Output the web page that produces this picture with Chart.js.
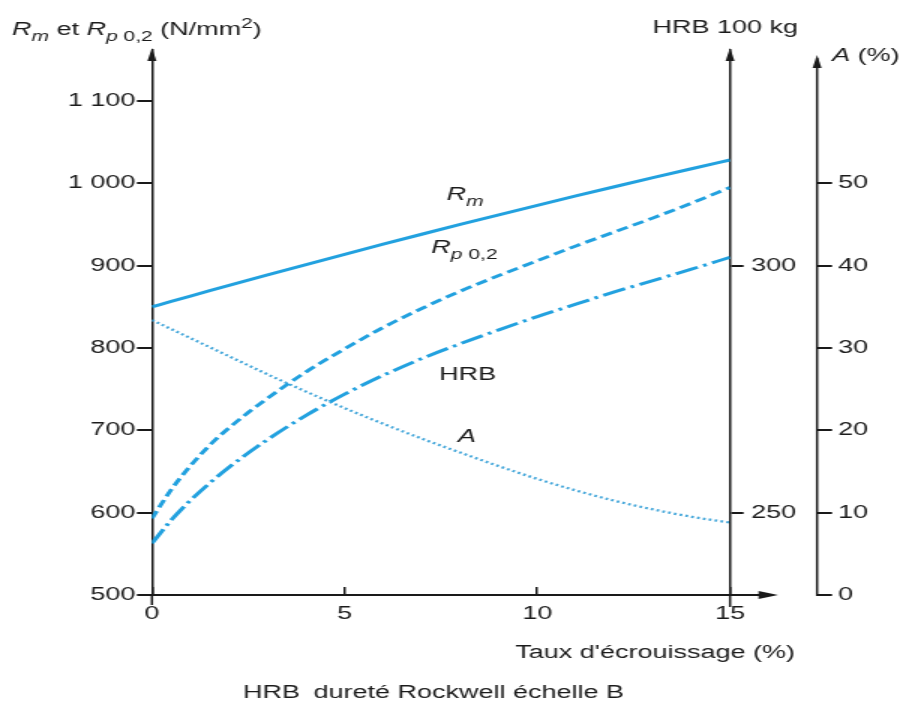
<!DOCTYPE html>
<html lang="fr">
<head>
<meta charset="utf-8">
<title>Écrouissage</title>
<script src="https://cdn.jsdelivr.net/npm/chart.js@4.4.1/dist/chart.umd.min.js"></script>
<style>
  html, body { margin: 0; background: #fff; }
</style>
</head>
<body>
<!-- drawn on a narrow canvas, then widened to the page width -->
<canvas id="chart" width="602" height="705" style="width:903px;height:705px;display:block"></canvas>
<script>
// taux d'écrouissage (%)
const strain = [0, 0.5, 1, 1.5, 2, 3, 4, 5, 6, 7, 8, 9, 10, 11, 12, 13, 14, 15];
// N/mm2
const rm   = [850, 856.6, 863.1, 869.6, 876.1, 888.8, 901.4, 913.8, 926.1, 938.2, 950.1, 961.8, 973.3, 984.7, 995.9, 1006.9, 1017.8, 1028.5];
const rp02 = [593, 628, 657, 682, 703, 739, 771, 799, 825, 848, 869, 888, 906, 924, 941, 958, 976, 995];
// HRB 100 kg
const hrb  = [243.8, 248.5, 252.5, 256.0, 259.2, 264.8, 269.7, 274.0, 277.8, 281.2, 284.2, 287.0, 289.7, 292.2, 294.7, 297.0, 299.3, 301.7];
// A (%)
const elong = [33.4, 32.3, 31.2, 30.1, 29.0, 26.8, 24.7, 22.7, 20.8, 19.0, 17.3, 15.65, 14.1, 12.7, 11.45, 10.4, 9.5, 8.8];

const xTicks = [0, 5, 10, 15];
const stressTicks = [500, 600, 700, 800, 900, 1000, 1100];
const hrbTicks = [250, 300];
const elongTicks = [0, 10, 20, 30, 40, 50];

const STRESS_MIN = 500, STRESS_MAX = 1162;
// the two right-hand scales share the stress axis grid
const hrbAt = s => 250 + (s - 600) / 6;
const elongAt = s => (s - 500) / 10;

const FONT = "'Liberation Sans', Arial, sans-serif";
const INK = '#1b1b1b';
const AXIS = '#1a1a1a';
const BLUE = '#22a1df';

const pts = ys => strain.map((x, i) => ({ x: x, y: ys[i] }));
const setTicks = list => scale => { scale.ticks = list.map(v => ({ value: v })); };

function drawRich(ctx, x, y, parts) {
  parts.forEach(p => {
    const size = (p.sub || p.sup) ? 14 : 18;
    ctx.font = (p.it ? 'italic ' : '') + size + 'px ' + FONT;
    const dy = p.sub ? 6 : (p.sup ? -7 : 0);
    ctx.fillText(p.t, x, y + dy);
    x += ctx.measureText(p.t).width;
  });
}

function arrowUp(ctx, x, tip) {
  ctx.beginPath();
  ctx.moveTo(x, tip);
  ctx.lineTo(x - 3, tip + 13);
  ctx.lineTo(x + 3, tip + 13);
  ctx.closePath();
  ctx.fill();
}

function arrowRight(ctx, tip, y) {
  ctx.beginPath();
  ctx.moveTo(tip, y);
  ctx.lineTo(tip - 13, y - 4);
  ctx.lineTo(tip - 13, y + 4);
  ctx.closePath();
  ctx.fill();
}

// arrows, axis extensions and all the labels
const decor = {
  id: 'decor',
  afterDraw(chart) {
    const ctx = chart.ctx;
    const area = chart.chartArea;
    const sx = chart.scales.x, sy = chart.scales.y, sa = chart.scales.yA;
    ctx.save();
    ctx.strokeStyle = AXIS;
    ctx.fillStyle = AXIS;

    // axes running below the abscissa
    ctx.lineWidth = 1.5;
    ctx.beginPath();
    ctx.moveTo(area.left, area.bottom);
    ctx.lineTo(area.left, area.bottom + 10);
    ctx.moveTo(area.right, area.bottom);
    ctx.lineTo(area.right, area.bottom + 12);
    ctx.stroke();

    // A axis
    const ax = sa.left;
    ctx.beginPath();
    ctx.moveTo(ax, area.bottom + 1);
    ctx.lineTo(ax, area.top + 8);
    ctx.stroke();

    // abscissa carried past 15 %
    const xTip = sx.getPixelForValue(15) + 32;
    ctx.lineWidth = 2;
    ctx.beginPath();
    ctx.moveTo(area.right, area.bottom);
    ctx.lineTo(xTip - 10, area.bottom);
    ctx.stroke();

    arrowUp(ctx, area.left, area.top - 2);
    arrowUp(ctx, area.right, area.top - 2);
    arrowUp(ctx, ax, area.top + 5);
    arrowRight(ctx, xTip, area.bottom);

    ctx.fillStyle = INK;
    ctx.textBaseline = 'alphabetic';
    ctx.textAlign = 'left';

    drawRich(ctx, 8, 35, [
      { t: 'R', it: true }, { t: 'm', it: true, sub: true },
      { t: ' et ' },
      { t: 'R', it: true }, { t: 'p', it: true, sub: true }, { t: ' 0,2', sub: true },
      { t: ' (N/mm' }, { t: '2', sup: true }, { t: ')' }
    ]);
    drawRich(ctx, 435, 33, [{ t: 'HRB 100 kg' }]);
    drawRich(ctx, ax + 10, 61, [{ t: 'A', it: true }, { t: ' (%)' }]);

    ctx.font = '18px ' + FONT;
    ctx.textAlign = 'right';
    ctx.fillText("Taux d'écrouissage (%)", 530, 658);
    ctx.textAlign = 'left';
    ctx.fillText('HRB', 162, 698);
    ctx.fillText('dureté Rockwell échelle B', 209, 698);

    // curve names
    drawRich(ctx, sx.getPixelForValue(7.65), sy.getPixelForValue(980),
      [{ t: 'R', it: true }, { t: 'm', it: true, sub: true }]);
    drawRich(ctx, sx.getPixelForValue(7.25), sy.getPixelForValue(915),
      [{ t: 'R', it: true }, { t: 'p', it: true, sub: true }, { t: ' 0,2', sub: true }]);
    drawRich(ctx, sx.getPixelForValue(7.45), sy.getPixelForValue(761), [{ t: 'HRB' }]);
    drawRich(ctx, sx.getPixelForValue(7.94), sy.getPixelForValue(686), [{ t: 'A', it: true }]);

    ctx.restore();
  }
};

const tickFont = { family: FONT, size: 18 };

new Chart(document.getElementById('chart'), {
  type: 'line',
  data: {
    datasets: [
      { data: pts(rm), yAxisID: 'y', borderColor: BLUE, borderWidth: 3 },
      { data: pts(rp02), yAxisID: 'y', borderColor: BLUE, borderWidth: 3, borderDash: [8, 4] },
      { data: pts(hrb), yAxisID: 'yHRB', borderColor: BLUE, borderWidth: 3, borderDash: [16, 4, 2.5, 4] },
      { data: pts(elong), yAxisID: 'yA', borderColor: '#45a7da', borderWidth: 2.3, borderDash: [1.8, 2.2] }
    ]
  },
  options: {
    responsive: false,
    animation: false,
    layout: { padding: { top: 50, left: 0, right: 0, bottom: 0 } },
    elements: {
      point: { radius: 0 },
      line: { cubicInterpolationMode: 'monotone', fill: false }
    },
    plugins: { legend: { display: false }, tooltip: { enabled: false } },
    scales: {
      x: {
        type: 'linear', position: 'bottom', min: 0, max: 15,
        afterBuildTicks: setTicks(xTicks),
        afterFit: s => { s.height = 110; },
        border: { display: true, color: AXIS, width: 2 },
        grid: { drawOnChartArea: false, drawTicks: true, tickLength: -8, color: AXIS, lineWidth: 1.5 },
        ticks: { color: INK, font: tickFont, padding: 16, maxRotation: 0 }
      },
      y: {
        position: 'left', min: STRESS_MIN, max: STRESS_MAX,
        afterBuildTicks: setTicks(stressTicks),
        afterFit: s => { s.width = 101.3; },
        border: { display: true, color: AXIS, width: 1.5 },
        grid: { drawOnChartArea: false, drawTicks: true, tickLength: 10, color: AXIS, lineWidth: 2 },
        ticks: {
          color: INK, font: tickFont, padding: 1,
          callback: v => v >= 1000 ? Math.floor(v / 1000) + ' ' + String(v % 1000).padStart(3, '0') : String(v)
        }
      },
      yHRB: {
        position: 'right', weight: 0, min: hrbAt(STRESS_MIN), max: hrbAt(STRESS_MAX),
        afterBuildTicks: setTicks(hrbTicks),
        afterFit: s => { s.width = 58; },
        border: { display: true, color: AXIS, width: 1.5 },
        grid: { drawOnChartArea: false, drawTicks: true, tickLength: 9, color: AXIS, lineWidth: 2 },
        ticks: { color: INK, font: tickFont, padding: 5 }
      },
      yA: {
        position: 'right', weight: 1, min: elongAt(STRESS_MIN), max: elongAt(STRESS_MAX),
        afterBuildTicks: setTicks(elongTicks),
        afterFit: s => { s.width = 57.3; },
        border: { display: false },
        grid: { drawOnChartArea: false, drawTicks: true, tickLength: 10, color: AXIS, lineWidth: 2 },
        ticks: { color: INK, font: tickFont, padding: 4 }
      }
    }
  },
  plugins: [decor]
});
</script>
</body>
</html>
